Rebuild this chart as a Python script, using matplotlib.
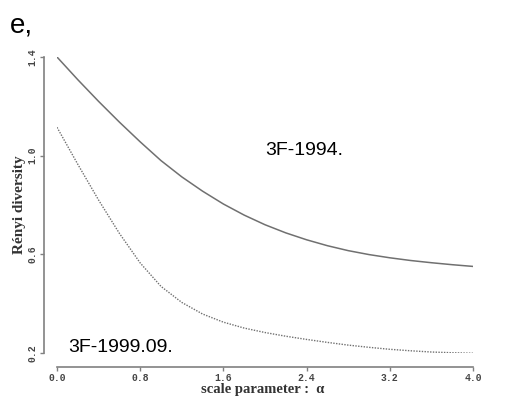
import matplotlib
matplotlib.use("Agg")
import matplotlib.pyplot as plt

alpha = [0.0, 0.2, 0.4, 0.6, 0.8, 1.0, 1.2, 1.4, 1.6, 1.8, 2.0,
         2.2, 2.4, 2.6, 2.8, 3.0, 3.2, 3.4, 3.6, 3.8, 4.0]
div_1994 = [1.400, 1.308, 1.220, 1.136, 1.056, 0.980, 0.914, 0.856, 0.804, 0.759, 0.720,
            0.687, 0.659, 0.635, 0.615, 0.599, 0.586, 0.575, 0.566, 0.558, 0.551]
div_1999 = [1.115, 0.965, 0.820, 0.685, 0.565, 0.470, 0.405, 0.358, 0.325, 0.301, 0.283,
            0.268, 0.255, 0.243, 0.232, 0.223, 0.215, 0.209, 0.204, 0.201, 0.199]
xticks = [0.0, 0.8, 1.6, 2.4, 3.2, 4.0]
yticks = [0.2, 0.6, 1.0, 1.4]

W, H = 514, 397
fig = plt.figure(figsize=(W / 100, H / 100), dpi=100)
ax = fig.add_axes([57 / W, 44 / H, 416 / W, 296 / H])
ax.set_xlim(0, 4)
ax.set_ylim(0.2, 1.4)

ax.plot(alpha, div_1994, color="#707070", lw=1.1, solid_capstyle="round")
ax.plot(alpha, div_1999, color="#707070", lw=1.0, linestyle=(0, (1, 1)))

for s in ["top", "right"]:
    ax.spines[s].set_visible(False)
ax.spines["left"].set_position(("outward", 13 * 0.72))
ax.spines["bottom"].set_position(("outward", 14 * 0.72))
ax.spines["left"].set_bounds(0.2, 1.4)
ax.spines["bottom"].set_bounds(0, 4)
for s in ["left", "bottom"]:
    ax.spines[s].set_color("#808080")
    ax.spines[s].set_linewidth(1.2)

ax.set_xticks(xticks)
ax.set_yticks(yticks)
ax.set_xticklabels([f"{v:.1f}" for v in xticks], fontfamily="Liberation Mono",
                   fontweight="bold", fontsize=7, color="#444444")
ax.set_yticklabels([f"{v:.1f}" for v in yticks], fontfamily="Liberation Mono",
                   fontweight="bold", fontsize=7, color="#444444",
                   rotation=90, va="center")
ax.tick_params(direction="out", length=3, width=1.0, color="#808080", pad=1.5)

fig.text(263 / W, 1 - 390 / H, "scale parameter :  α", fontfamily="Liberation Serif",
         fontweight="bold", fontsize=10.5, color="#333333", ha="center", va="center")
ax.set_ylabel("Rényi diversity", fontfamily="Liberation Serif",
              fontweight="bold", fontsize=11, color="#333333", labelpad=1)

ax.text(265 / W, 1 - 150 / H, "3F-1994.", transform=fig.transFigure,
        fontfamily="Liberation Sans", fontsize=14, va="center", ha="left")
ax.text(68 / W, 1 - 347 / H, "3F-1999.09.", transform=fig.transFigure,
        fontfamily="Liberation Sans", fontsize=14, va="center", ha="left")
fig.text(10 / W, 1 - 33 / H, "e,", fontfamily="Liberation Sans",
         fontsize=20, va="baseline", ha="left")

fig.savefig("out.png", dpi=100)
